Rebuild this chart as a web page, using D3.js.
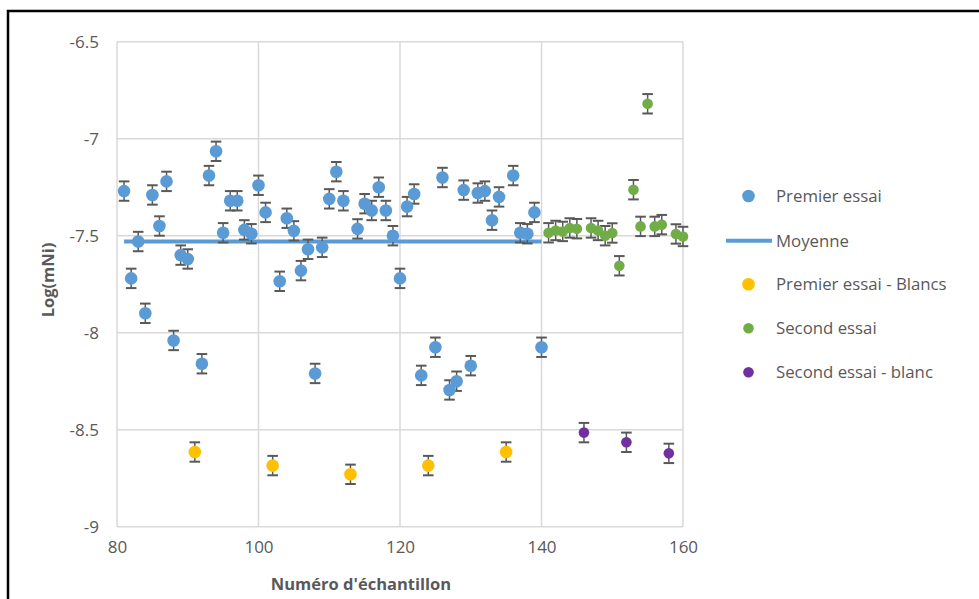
<!DOCTYPE html>
<html><head><meta charset="utf-8">
<script src="https://cdn.jsdelivr.net/npm/d3@7"></script>
<style>body{margin:0;background:#fff;}svg{display:block;}text{font-family:"Open Sans",sans-serif;}</style>
</head><body>
<script>
// ---- data ----
const premierX = [81,82,83,84,85,86,87,88,89,90,92,93,94,95,96,97,98,99,100,101,103,104,105,106,107,108,109,110,111,112,114,115,116,117,118,119,120,121,122,123,125,126,127,128,129,130,131,132,133,134,136,137,138,139,140];
const premierY = [-7.27,-7.72,-7.53,-7.90,-7.29,-7.45,-7.22,-8.04,-7.60,-7.62,-8.16,-7.19,-7.065,-7.485,-7.32,-7.32,-7.47,-7.49,-7.24,-7.38,-7.735,-7.41,-7.475,-7.68,-7.57,-8.21,-7.56,-7.31,-7.17,-7.32,-7.465,-7.335,-7.37,-7.25,-7.37,-7.50,-7.72,-7.35,-7.285,-8.22,-8.075,-7.20,-8.295,-8.25,-7.265,-8.17,-7.28,-7.27,-7.42,-7.30,-7.19,-7.485,-7.49,-7.38,-8.075];
const blancsX = [91,102,113,124,135];
const blancsY = [-8.615,-8.685,-8.73,-8.685,-8.615];
const secondX = [141,142,143,144,145,147,148,149,150,151,153,154,155,156,157,159,160];
const secondY = [-7.485,-7.473,-7.478,-7.46,-7.464,-7.46,-7.473,-7.50,-7.486,-7.655,-7.263,-7.452,-6.82,-7.452,-7.443,-7.491,-7.504];
const secondBlancX = [146,152,158];
const secondBlancY = [-8.515,-8.565,-8.622];
const moyenneX = [81,140];
const moyenneY = [-7.53,-7.53];
const errorHalf = 0.05;
const xTicks = [80,100,120,140,160];
const yTicks = [-6.5,-7,-7.5,-8,-8.5,-9];
const yTickLabels = ["-6.5","-7","-7.5","-8","-8.5","-9"];
const legendLabels = ["Premier essai","Moyenne","Premier essai - Blancs","Second essai","Second essai - blanc"];

const W=979,H=599;
const FONT="'Open Sans', sans-serif";
const svg=d3.select("body").append("svg").attr("width",W).attr("height",H);
svg.append("rect").attr("x",8).attr("y",11).attr("width",W+10).attr("height",H+10)
  .attr("fill","#fff").attr("stroke","#000").attr("stroke-width",2.5);

const x=d3.scaleLinear().domain([80,160]).range([117,683]);
const y=d3.scaleLinear().domain([-6.5,-9]).range([41.7,526.7]);

// gridlines
const g=svg.append("g");
g.selectAll(".gy").data(yTicks).join("line").attr("x1",x(80)).attr("x2",x(160))
  .attr("y1",d=>y(d)).attr("y2",d=>y(d)).attr("stroke","#d9d9d9").attr("stroke-width",1.5);
g.selectAll(".gx").data(xTicks).join("line").attr("y1",y(-6.5)).attr("y2",y(-9))
  .attr("x1",d=>x(d)).attr("x2",d=>x(d)).attr("stroke","#d9d9d9").attr("stroke-width",1.5);

// axes via d3
const xAxis=svg.append("g").attr("transform",`translate(0,${y(-9)})`)
  .call(d3.axisBottom(x).tickValues(xTicks).tickSize(0).tickPadding(14).tickFormat(d3.format("d")));
const yAxis=svg.append("g").attr("transform",`translate(${x(80)},0)`)
  .call(d3.axisLeft(y).tickValues(yTicks).tickSize(0).tickPadding(18).tickFormat((d,i)=>yTickLabels[i]));
[xAxis,yAxis].forEach(a=>{a.select(".domain").remove();
  a.selectAll("text").attr("font-family",FONT).attr("font-size",17).attr("fill","#595959");});

// titles
svg.append("text").attr("x",361).attr("y",590).attr("text-anchor","middle")
  .attr("font-size",16.5).attr("font-weight","bold").attr("fill","#595959").text("Numéro d'échantillon");
svg.append("text").attr("transform","translate(54,280) rotate(-90)").attr("text-anchor","middle")
  .attr("font-size",16.5).attr("font-weight","bold").attr("fill","#595959").text("Log(mNi)");

// mean line
svg.append("line").attr("x1",x(moyenneX[0])).attr("x2",x(moyenneX[1]))
  .attr("y1",y(moyenneY[0])).attr("y2",y(moyenneY[1])).attr("stroke","#5B9BD5").attr("stroke-width",4);

function series(xs,ys,color,r){
  const data=xs.map((v,i)=>({x:v,y:ys[i]}));
  const gg=svg.append("g");
  const eb=gg.selectAll("g.eb").data(data).join("g");
  eb.append("line").attr("x1",d=>x(d.x)).attr("x2",d=>x(d.x)).attr("y1",d=>y(d.y+errorHalf)).attr("y2",d=>y(d.y-errorHalf))
    .attr("stroke","#595959").attr("stroke-width",1.5);
  [1,-1].forEach(s=>eb.append("line").attr("x1",d=>x(d.x)-5.3).attr("x2",d=>x(d.x)+5.3)
    .attr("y1",d=>y(d.y+s*errorHalf)).attr("y2",d=>y(d.y+s*errorHalf)).attr("stroke","#595959").attr("stroke-width",2));
  gg.selectAll("circle").data(data).join("circle").attr("cx",d=>x(d.x)).attr("cy",d=>y(d.y)).attr("r",r).attr("fill",color);
}
series(premierX,premierY,"#5B9BD5",6.3);
series(blancsX,blancsY,"#FFC000",6.3);
series(secondX,secondY,"#70AD47",5.3);
series(secondBlancX,secondBlancY,"#7030A0",5.3);

// legend
const leg=[{t:legendLabels[0],c:"#5B9BD5",type:"dot",r:6.3,y:196},
  {t:legendLabels[1],c:"#5B9BD5",type:"line",y:240.7},
  {t:legendLabels[2],c:"#FFC000",type:"dot",r:6.3,y:284.3},
  {t:legendLabels[3],c:"#70AD47",type:"dot",r:5.3,y:328.3},
  {t:legendLabels[4],c:"#7030A0",type:"dot",r:5.3,y:372.3}];
const lg=svg.append("g");
leg.forEach(l=>{
  if(l.type==="dot") lg.append("circle").attr("cx",748.5).attr("cy",l.y).attr("r",l.r).attr("fill",l.c);
  else lg.append("line").attr("x1",726).attr("x2",772).attr("y1",l.y).attr("y2",l.y).attr("stroke",l.c).attr("stroke-width",4);
  lg.append("text").attr("x",776).attr("y",l.y).attr("dy","0.35em").attr("font-size",16.8).attr("fill","#595959").text(l.t);
});
</script>
</body></html>
